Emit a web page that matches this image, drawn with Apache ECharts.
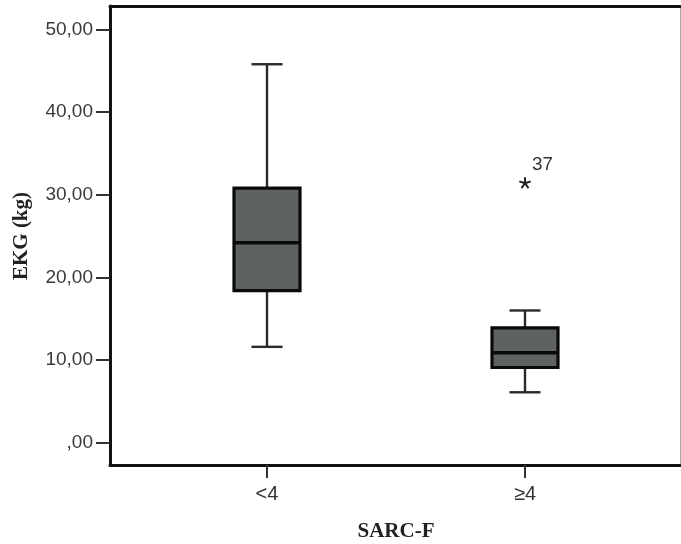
<!DOCTYPE html>
<html>
<head>
<meta charset="utf-8">
<script src="https://cdn.jsdelivr.net/npm/echarts@6/dist/echarts.min.js"></script>
<style>html,body{margin:0;padding:0;background:#fff;}#c{width:681px;height:544px;}</style>
</head>
<body>
<div id="c"></div>
<script>
// Data
var categories = ['<4', '\u22654'];
var whiskerLow = [11.6, 6.1];
var q1 = [18.4, 9.1];
var median = [24.2, 10.9];
var q3 = [30.8, 13.9];
var whiskerHigh = [45.8, 16.0];
var outlierCategory = [1];
var outlierValue = [31.4];
var outlierLabel = ['37'];
var yTicks = [0, 10, 20, 30, 40, 50];

var boxData = categories.map(function (c, i) {
  return [i, whiskerLow[i], q1[i], median[i], q3[i], whiskerHigh[i]];
});
var outData = outlierCategory.map(function (c, i) {
  return [c, outlierValue[i], outlierLabel[i]];
});

var labelFont = 'Liberation Sans, Arial, sans-serif';
var titleFont = 'Liberation Serif, Times New Roman, serif';
var yMin = -2.7, yMax = 52.85;

var chart = echarts.init(document.getElementById('c'));
chart.setOption({
  animation: false,
  grid: [
    {left: 110, right: 1, top: 6, bottom: 79, outerBoundsMode: 'none', containLabel: false},
    {left: 138, right: 27, top: 6, bottom: 79, outerBoundsMode: 'none', containLabel: false},
    {left: 110, right: 1, top: 29.5, bottom: 101.5, outerBoundsMode: 'none', containLabel: false}
  ],
  xAxis: [
    {gridIndex: 0, type: 'value', position: 'top', min: 0, max: 1,
      axisLine: {show: true, onZero: false, lineStyle: {color: '#111', width: 3}},
      axisTick: {show: false}, axisLabel: {show: false}, splitLine: {show: false}},
    {gridIndex: 0, type: 'value', position: 'bottom', min: 0, max: 1,
      axisLine: {show: true, onZero: false, lineStyle: {color: '#111', width: 3}},
      axisTick: {show: false}, axisLabel: {show: false}, splitLine: {show: false}},
    {gridIndex: 1, type: 'category', data: categories, position: 'bottom',
      axisLine: {show: false, onZero: false},
      axisTick: {show: true, inside: false, alignWithLabel: true, length: 13, lineStyle: {color: '#333', width: 2}},
      axisLabel: {margin: 19, fontSize: 20, color: '#333', fontFamily: labelFont},
      name: 'SARC-F', nameLocation: 'middle', nameGap: 56,
      nameTextStyle: {fontFamily: titleFont, fontWeight: 'bold', fontSize: 21, color: '#222'}},
    {gridIndex: 2, type: 'value', min: 0, max: 1, show: false}
  ],
  yAxis: [
    {gridIndex: 0, type: 'value', position: 'left', min: 0, max: 1,
      axisLine: {show: true, onZero: false, lineStyle: {color: '#111', width: 3}},
      axisTick: {show: false}, axisLabel: {show: false}, splitLine: {show: false}},
    {gridIndex: 0, type: 'value', position: 'right', min: 0, max: 1,
      axisLine: {show: true, onZero: false, lineStyle: {color: '#aaa', width: 1}},
      axisTick: {show: false}, axisLabel: {show: false}, splitLine: {show: false}},
    {gridIndex: 1, type: 'value', min: yMin, max: yMax, show: false},
    {gridIndex: 2, type: 'value', min: yTicks[0], max: yTicks[yTicks.length - 1], interval: 10,
      axisLine: {show: false, onZero: false},
      axisTick: {show: true, inside: false, length: 14, lineStyle: {color: '#333', width: 2}},
      splitLine: {show: false},
      axisLabel: {margin: 17, fontSize: 19, color: '#3a3a3a', fontFamily: labelFont,
        formatter: function (v) { return v === 0 ? ',00' : v.toFixed(2).replace('.', ','); }},
      name: 'EKG (kg)', nameLocation: 'middle', nameGap: 78, nameRotate: 90,
      nameTextStyle: {fontFamily: titleFont, fontWeight: 'bold', fontSize: 21, color: '#222'}}
  ],
  series: [
    {
      type: 'custom', xAxisIndex: 2, yAxisIndex: 2, data: boxData,
      encode: {x: 0, y: [1, 2, 3, 4, 5]},
      renderItem: function (params, api) {
        var x = api.value(0);
        var pLow = api.coord([x, api.value(1)]);
        var pQ1 = api.coord([x, api.value(2)]);
        var pMed = api.coord([x, api.value(3)]);
        var pQ3 = api.coord([x, api.value(4)]);
        var pHigh = api.coord([x, api.value(5)]);
        var cx = pMed[0];
        var bw = 66, cw = 31;
        var wStyle = {stroke: '#2a2a2a', lineWidth: 2.4};
        return {
          type: 'group',
          children: [
            {type: 'line', shape: {x1: cx, y1: pQ3[1], x2: cx, y2: pHigh[1]}, style: wStyle},
            {type: 'line', shape: {x1: cx, y1: pQ1[1], x2: cx, y2: pLow[1]}, style: wStyle},
            {type: 'line', shape: {x1: cx - cw / 2, y1: pHigh[1], x2: cx + cw / 2, y2: pHigh[1]}, style: wStyle},
            {type: 'line', shape: {x1: cx - cw / 2, y1: pLow[1], x2: cx + cw / 2, y2: pLow[1]}, style: wStyle},
            {type: 'rect', shape: {x: cx - bw / 2, y: pQ3[1], width: bw, height: pQ1[1] - pQ3[1]},
              style: {fill: '#5f6263', stroke: '#0a0a0a', lineWidth: 3.2}},
            {type: 'line', shape: {x1: cx - bw / 2, y1: pMed[1], x2: cx + bw / 2, y2: pMed[1]},
              style: {stroke: '#0a0a0a', lineWidth: 3.5}}
          ]
        };
      }
    },
    {
      type: 'custom', xAxisIndex: 2, yAxisIndex: 2, data: outData,
      encode: {x: 0, y: 1},
      renderItem: function (params, api) {
        var p = api.coord([api.value(0), api.value(1)]);
        var label = outlierLabel[params.dataIndex];
        var arms = [];
        for (var k = 0; k < 5; k++) {
          var a = -Math.PI / 2 + k * 2 * Math.PI / 5;
          arms.push({type: 'line', shape: {x1: p[0], y1: p[1], x2: p[0] + 6 * Math.cos(a), y2: p[1] + 6 * Math.sin(a)},
            style: {stroke: '#222', lineWidth: 2}});
        }
        arms.push({type: 'text', x: p[0] + 7, y: p[1] - 9,
          style: {text: label, fill: '#333', font: '19px ' + labelFont, textAlign: 'left', textVerticalAlign: 'bottom'}});
        return {type: 'group', children: arms};
      }
    }
  ]
});
</script>
</body>
</html>
